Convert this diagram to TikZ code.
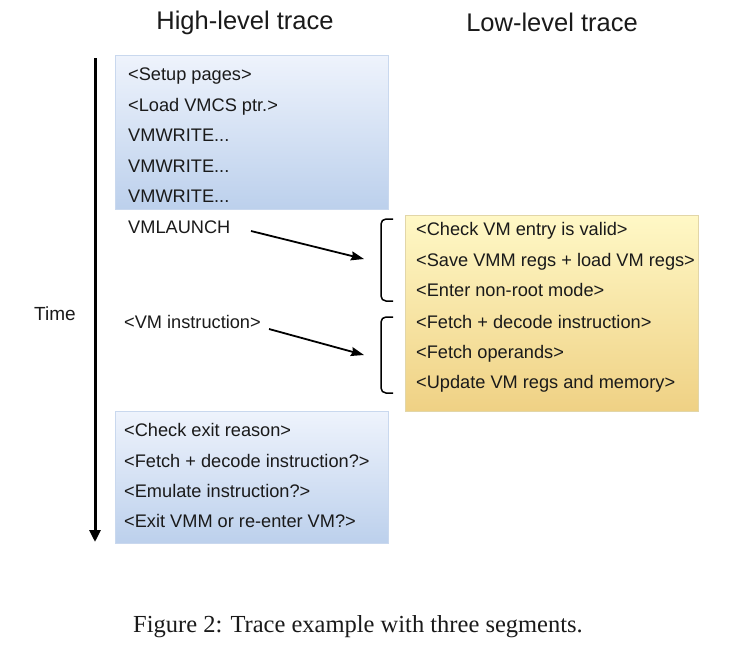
\documentclass[tikz,border=0pt]{standalone}
\usepackage{fontspec}
\setmainfont{Liberation Sans}
\newfontfamily\capfont{Liberation Serif}
\usetikzlibrary{arrows.meta}
\definecolor{bluetop}{HTML}{EEF3FC}
\definecolor{bluebot}{HTML}{BCD0EC}
\definecolor{blueedge}{HTML}{C9D8EE}
\definecolor{yeltop}{HTML}{FFF8C6}
\definecolor{yelbot}{HTML}{EFD184}
\definecolor{yeledge}{HTML}{E2D6A8}
\definecolor{ink}{HTML}{1A1A1A}
\tikzset{
  line/.style={inner sep=0pt, anchor=west, text=ink, font=\fontsize{18.2}{21}\selectfont, text height=13pt, text depth=3pt},
  title/.style={inner sep=0pt, text=ink, font=\fontsize{25.5}{29}\selectfont},
  bluebox/.style={draw=blueedge, line width=0.8pt, top color=bluetop, bottom color=bluebot},
  yelbox/.style={draw=yeledge, line width=0.8pt, top color=yeltop, bottom color=yelbot},
  arr/.style={line width=1.8pt, -{Stealth[length=13pt,width=9pt,inset=1.5pt]}},
  brk/.style={line width=1.5pt, rounded corners=5pt},
}
\begin{document}
\begin{tikzpicture}[x=1pt,y=-1pt]
\useasboundingbox[fill=white] (0,0) rectangle (733,646);
% titles
\node[title] (th) at (245,23) {High-level trace};
\node[title] (tl) at (552,22) {Low-level trace};
% time axis
\coordinate (ttop) at (95,58);
\coordinate (tbot) at (95,542);
\draw[line width=3pt, -{Triangle[length=12pt,width=11pt]}] (ttop) -- (tbot);
\node[inner sep=0pt, text=ink, font=\fontsize{19}{21}\selectfont] (time) at (55,314) {Time};
% boxes
\node[bluebox, minimum width=273pt, minimum height=154pt, inner sep=0pt] (b1) at (251.5,132.5) {};
\node[bluebox, minimum width=273pt, minimum height=132pt, inner sep=0pt] (b2) at (251.5,477.5) {};
\node[yelbox, minimum width=293pt, minimum height=196pt, inner sep=0pt] (y1) at (551.5,313.5) {};
% high-level lines
\node[line] (h1) at (128,75.5) {<Setup pages>};
\node[line] (h2) at (128,106) {<Load VMCS ptr.>};
\node[line] (h3) at (128,136.5) {VMWRITE...};
\node[line] (h4) at (128,167) {VMWRITE...};
\node[line] (h5) at (128,197.5) {VMWRITE...};
\node[line] (h6) at (128,228) {VMLAUNCH};
\node[line] (h7) at (124,323) {<VM instruction>};
% bottom box lines
\node[line] (e1) at (124,431.5) {<Check exit reason>};
\node[line] (e2) at (124,462.5) {<Fetch + decode instruction?>};
\node[line] (e3) at (124,492.5) {<Emulate instruction?>};
\node[line] (e4) at (124,522.5) {<Exit VMM or re-enter VM?>};
% low-level lines
\node[line] (l1) at (416,230.5) {<Check VM entry is valid>};
\node[line] (l2) at (416,261) {<Save VMM regs + load VM regs>};
\node[line] (l3) at (416,291.5) {<Enter non-root mode>};
\node[line] (l4) at (416,323) {<Fetch + decode instruction>};
\node[line] (l5) at (416,353.5) {<Fetch operands>};
\node[line] (l6) at (416,383.5) {<Update VM regs and memory>};
% brackets
\coordinate (k1t) at (393,219);
\coordinate (k1b) at (393,301);
\coordinate (k2t) at (393,317);
\coordinate (k2b) at (393,393);
\draw[brk] (k1t) -- (381,219) -- (381,301) -- (k1b);
\draw[brk] (k2t) -- (381,317) -- (381,393) -- (k2b);
% arrows
\coordinate (a1s) at (251,231);
\coordinate (a1e) at (364,259);
\coordinate (a2s) at (269,329);
\coordinate (a2e) at (364,355);
\draw[arr] (a1s) -- (a1e);
\draw[arr] (a2s) -- (a2e);
% caption
\node[inner sep=0pt, text=ink, font=\capfont\fontsize{24.5}{28}\selectfont] (cap) at (358,627) {Figure 2: Trace example with three segments.};
\end{tikzpicture}
\end{document}
